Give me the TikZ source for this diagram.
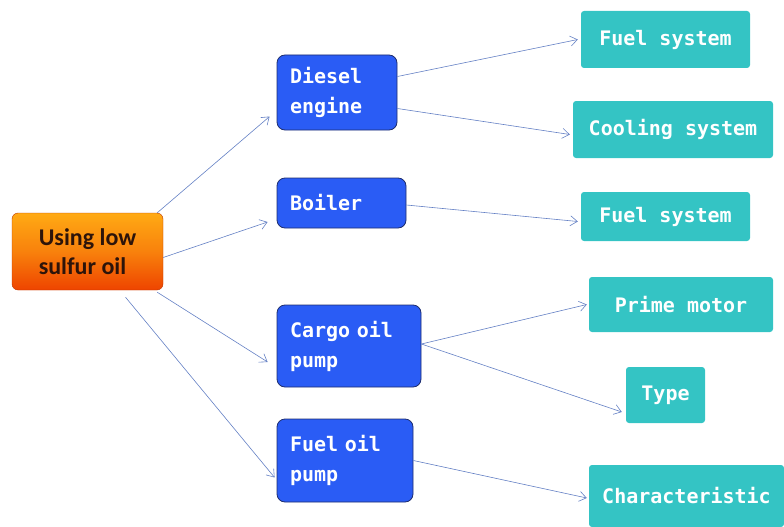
\documentclass[tikz,border=0pt]{standalone}
\usepackage{fontspec}
\setmainfont{DejaVu Sans Mono}
\newfontfamily\rootfont{Carlito}
\usetikzlibrary{arrows.meta, calc}
\definecolor{partblue}{RGB}{42, 92, 245}
\definecolor{partedge}{RGB}{30, 45, 110}
\definecolor{itemteal}{RGB}{52, 196, 196}
\definecolor{linkblue}{RGB}{100, 128, 196}
\definecolor{rootorange}{RGB}{255, 170, 20}
\definecolor{rootred}{RGB}{238, 68, 0}
\definecolor{roottext}{RGB}{45, 20, 10}

\tikzset{
  rootbox/.style={draw=rootred!80!black, thin, rounded corners=6pt,
    top color=rootorange, bottom color=rootred, middle color=rootorange!60!rootred,
    text=roottext, font=\rootfont\bfseries\fontsize{24}{29}\selectfont, align=left,
    minimum width=151pt, minimum height=77pt},
  partbox/.style={draw=partedge, thick, fill=partblue, rounded corners=8pt,
    text=white, font=\bfseries\fontsize{20}{30}\selectfont, align=left,
    inner xsep=13pt},
  itembox/.style={fill=itemteal, rounded corners=3pt, text=white,
    font=\bfseries\fontsize{20}{24}\selectfont, align=center},
  link/.style={-{Straight Barb[length=7pt, width=10pt]}, linkblue, semithick}
}

\begin{document}
\begin{tikzpicture}[x=1pt, y=-1pt]
  \useasboundingbox (0,0) rectangle (784,527);

  % root
  \node[rootbox] (root) at (87.5, 251.5) {Using low\\sulfur oil};

  % equipment
  \node[partbox, minimum height=75pt, text width=94pt] (diesel) at (337, 92.5)
    {Diesel\\engine};
  \node[partbox, minimum height=50pt, text width=103pt] (boiler) at (341.5, 203)
    {Boiler};
  \node[partbox, minimum height=82pt, text width=118pt] (cargo) at (349, 346)
    {Cargo oil\\pump};
  \node[partbox, minimum height=83pt, text width=110pt] (fuelpump) at (345, 460.5)
    {Fuel oil\\pump};

  % items to check
  \node[itembox, minimum width=169pt, minimum height=57pt] (fuelsysA) at (665.5, 39.5)
    {Fuel system};
  \node[itembox, minimum width=200pt, minimum height=57pt] (cooling) at (673, 129.5)
    {Cooling system};
  \node[itembox, minimum width=169pt, minimum height=49pt] (fuelsysB) at (665.5, 216.5)
    {Fuel system};
  \node[itembox, minimum width=184pt, minimum height=55pt] (prime) at (681, 304.5)
    {Prime motor};
  \node[itembox, minimum width=79pt, minimum height=56pt] (type) at (665.5, 395)
    {Type};
  \node[itembox, minimum width=195pt, minimum height=62pt] (charact) at (686.5, 496)
    {Characteristic};

  % root to equipment
  \draw[link] ($(root.north east)+(-6,0)$) -- ($(diesel.west)+(-7,24)$);
  \draw[link] ($(root.east)+(0,6)$) -- ($(boiler.west)+(-9,19)$);
  \draw[link] ($(root.south east)+(-6,2)$) -- ($(cargo.west)+(-9,16)$);
  \draw[link] ($(root.south)+(38,7)$) -- ($(fuelpump.west)+(-2,17)$);

  % equipment to items
  \draw[link] ($(diesel.east)+(0,-16)$) -- ($(fuelsysA.west)+(-3,0)$);
  \draw[link] ($(diesel.east)+(0,16)$) -- ($(cooling.west)+(-3,5)$);
  \draw[link] ($(boiler.east)+(0,2)$) -- ($(fuelsysB.west)+(-3,5)$);
  \draw[link] ($(cargo.east)+(0,-2)$) -- ($(prime.west)+(-2,0)$);
  \draw[link] ($(cargo.east)+(0,-2)$) -- ($(type.west)+(-4,17)$);
  \draw[link] (fuelpump.east) -- ($(charact.west)+(-2,2)$);
\end{tikzpicture}
\end{document}
